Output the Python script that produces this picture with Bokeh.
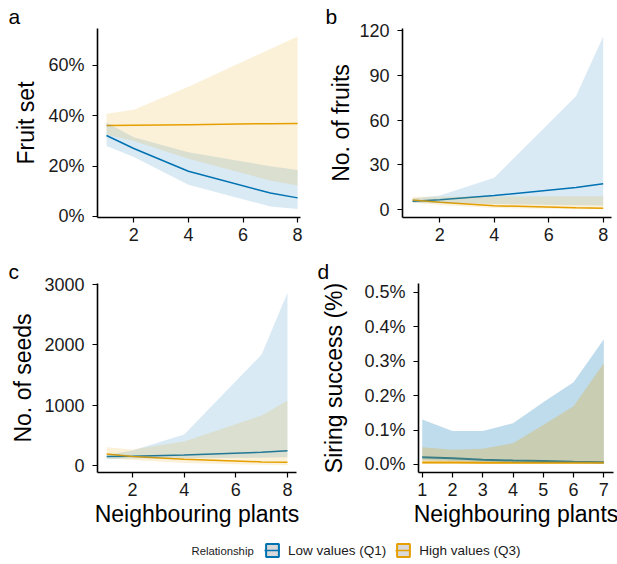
from bokeh.plotting import figure
from bokeh.layouts import column, row
from bokeh.models import FixedTicker, NumeralTickFormatter, Range1d, Label, Legend, LegendItem, Title
from bokeh.embed import file_html
from bokeh.resources import INLINE

BLUE = "#0072B2"
ORANGE = "#E69F00"
FONT = "Liberation Sans"

# ---------------- data ----------------
x_neigh = [1, 2, 4, 7, 8]
x_siring = [1, 2, 3, 4, 5, 6, 7]

# a: fruit set (fraction)
a_low_fit = [0.322, 0.270, 0.180, 0.093, 0.074]
a_low_lo = [0.280, 0.236, 0.126, 0.040, 0.030]
a_low_hi = [0.373, 0.315, 0.255, 0.200, 0.185]
a_high_fit = [0.362, 0.363, 0.365, 0.369, 0.370]
a_high_lo = [0.325, 0.300, 0.229, 0.143, 0.123]
a_high_hi = [0.408, 0.424, 0.516, 0.666, 0.715]

# b: number of fruits
b_low_fit = [5.8, 6.8, 9.5, 15.0, 17.5]
b_low_lo = [4.8, 4.5, 3.8, 3.0, 2.9]
b_low_hi = [7.5, 9.5, 21.5, 76.0, 116.0]
b_high_fit = [6.5, 5.0, 2.7, 1.3, 1.0]
b_high_lo = [4.8, 3.2, 1.2, 0.4, 0.3]
b_high_hi = [8.8, 8.8, 8.9, 9.0, 9.1]

# c: number of seeds
c_low_fit = [150, 155, 175, 220, 245]
c_low_lo = [105, 115, 120, 130, 135]
c_low_hi = [175, 249, 514, 1840, 2862]
c_high_fit = [190, 150, 105, 60, 55]
c_high_lo = [120, 90, 40, 12, 6]
c_high_hi = [303, 265, 398, 829, 1077]

# d: siring success (fraction)
d_low_fit = [0.00021, 0.00018, 0.00014, 0.000116, 0.0001, 0.00008, 0.000067]
d_low_lo = [0.00012, 0.0001, 0.00008, 0.00006, 0.00005, 0.00004, 0.00003]
d_low_hi = [0.00131, 0.00097, 0.00097, 0.0012, 0.00181, 0.00239, 0.00364]
d_high_fit = [0.00006, 0.00006, 0.00005, 0.00005, 0.00005, 0.00005, 0.00005]
d_high_lo = [0.00002, 0.00002, 0.00002, 0.00002, 0.00002, 0.00002, 0.00002]
d_high_hi = [0.0005, 0.00043, 0.00046, 0.00062, 0.00115, 0.00169, 0.00294]

xt_a = [2, 4, 6, 8]
xt_d = [1, 2, 3, 4, 5, 6, 7]
yt_a = [0, 0.2, 0.4, 0.6]
yt_b = [0, 30, 60, 90, 120]
yt_c = [0, 1000, 2000, 3000]
yt_d = [0, 0.001, 0.002, 0.003, 0.004, 0.005]

XLAB = "Neighbouring plants"
TITLE_SIZE = "23px"
TICK_SIZE = "18px"


def panel(width, height, left, right, top, bottom, xr, yr, xticks, yticks, fmt,
          ylabel, xlabel, letter, letter_off, x, low, high, alpha, lw, ystand):
    p = figure(width=width, height=height, output_backend="svg", toolbar_location=None,
               x_range=Range1d(*xr), y_range=Range1d(*yr),
               min_border_left=left, min_border_right=right,
               min_border_top=top, min_border_bottom=bottom)
    p.outline_line_color = None
    p.xgrid.visible = False
    p.ygrid.visible = False
    p.background_fill_color = "white"
    p.border_fill_color = "white"

    # lines first, ribbons on top (as in reference)
    p.line(x, low[0], line_color=BLUE, line_width=lw)
    p.line(x, high[0], line_color=ORANGE, line_width=lw)
    p.varea(x=x, y1=low[1], y2=low[2], fill_color=BLUE, fill_alpha=alpha)
    p.varea(x=x, y1=high[1], y2=high[2], fill_color=ORANGE, fill_alpha=alpha)

    for ax in (p.xaxis[0], p.yaxis[0]):
        ax.axis_line_color = "black"
        ax.axis_line_width = 1.6
        ax.major_tick_line_color = "black"
        ax.major_tick_line_width = 1.2
        ax.major_tick_out = 5
        ax.major_tick_in = 0
        ax.minor_tick_line_color = None
        ax.major_label_text_font = FONT
        ax.major_label_text_font_size = TICK_SIZE
        ax.major_label_text_color = "#1a1a1a"
        ax.axis_label_text_font = FONT
        ax.axis_label_text_font_size = TITLE_SIZE
        ax.axis_label_text_font_style = "normal"
        ax.axis_label_text_color = "black"
    p.xaxis.ticker = FixedTicker(ticks=xticks)
    p.yaxis.ticker = FixedTicker(ticks=yticks)
    p.xaxis.major_label_standoff = 5
    p.yaxis.major_label_standoff = 8
    p.yaxis.axis_label_standoff = ystand
    p.xaxis.axis_label_standoff = 2
    if fmt:
        p.yaxis.formatter = NumeralTickFormatter(format=fmt)
    p.yaxis.axis_label = ylabel
    if xlabel:
        p.xaxis.axis_label = xlabel

    # panel letter as a left-shifted title above the frame
    p.add_layout(Title(text=letter, align="left", offset=letter_off, standoff=1,
                       text_font=FONT, text_font_size="21px", text_font_style="normal",
                       text_color="black"), "above")
    return p


pa = panel(310, 250, 97, 10, 28, 33, (0.67, 8.106), (-0.004, 0.747), xt_a, yt_a, "0%",
           "Fruit set", None, "a", -89, x_neigh,
           (a_low_fit, a_low_lo, a_low_hi), (a_high_fit, a_high_lo, a_high_hi), 0.15, 1.5, 6)
pb = panel(307, 250, 92, 6, 28, 33, (0.629, 8.305), (-5.15, 121.3), xt_a, yt_b, None,
           "No. of fruits", None, "b", -77, x_neigh,
           (b_low_fit, b_low_lo, b_low_hi), (b_high_fit, b_high_lo, b_high_hi), 0.15, 1.5, 2)
pc = panel(310, 285, 97, 14, 33, 63, (0.644, 8.35), (-116, 3017), xt_a, yt_c, None,
           "No. of seeds", XLAB, "c", -89, x_neigh,
           (c_low_fit, c_low_lo, c_low_hi), (c_high_fit, c_high_lo, c_high_hi), 0.15, 1.5, 5)
pd_ = panel(307, 285, 108, 4, 33, 63, (0.878, 7.32), (-0.000233, 0.00526), xt_d, yt_d, "0.0%",
            "Siring success (%)", XLAB, "d", -101, x_siring,
            (d_low_fit, d_low_lo, d_low_hi), (d_high_fit, d_high_lo, d_high_hi), 0.25, 2.0, 14)

# ---------------- legend strip ----------------
leg = figure(width=617, height=29, output_backend="svg", toolbar_location=None,
             x_range=Range1d(0, 617), y_range=Range1d(0, 29),
             min_border_left=0, min_border_right=0, min_border_top=0, min_border_bottom=0)
leg.axis.visible = False
leg.xgrid.visible = False
leg.ygrid.visible = False
leg.outline_line_color = None
# key glyphs placed outside the visible range: only the legend shows them
q1 = leg.quad(left=[-60], right=[-50], top=[-50], bottom=[-60], fill_color="#d9d9d9",
              line_color=BLUE, line_width=2)
l1 = leg.line(x=[-60, -50], y=[-55, -55], line_color=BLUE, line_width=1.5)
q2 = leg.quad(left=[-60], right=[-50], top=[-50], bottom=[-60], fill_color="#d9d9d9",
              line_color=ORANGE, line_width=2)
l2 = leg.line(x=[-60, -50], y=[-55, -55], line_color=ORANGE, line_width=1.5)
legend = Legend(items=[LegendItem(label="Low values (Q1)", renderers=[q1, l1]),
                       LegendItem(label="High values (Q3)", renderers=[q2, l2])],
                orientation="horizontal", location=(264, 6),
                glyph_width=16, glyph_height=16, label_height=16, label_standoff=8,
                spacing=9, padding=0, margin=0,
                label_text_font=FONT, label_text_font_size="13.5px", label_text_color="#1a1a1a",
                background_fill_alpha=0, border_line_color=None)
leg.add_layout(legend, "center")
leg.add_layout(Label(x=191, y=14, text="Relationship", text_font=FONT, text_font_size="11.3px",
                     text_baseline="middle", text_align="left", text_color="#1a1a1a"))

layout = column(row(pa, pb), row(pc, pd_), leg)
open("out.html", "w").write(file_html(layout, INLINE))
